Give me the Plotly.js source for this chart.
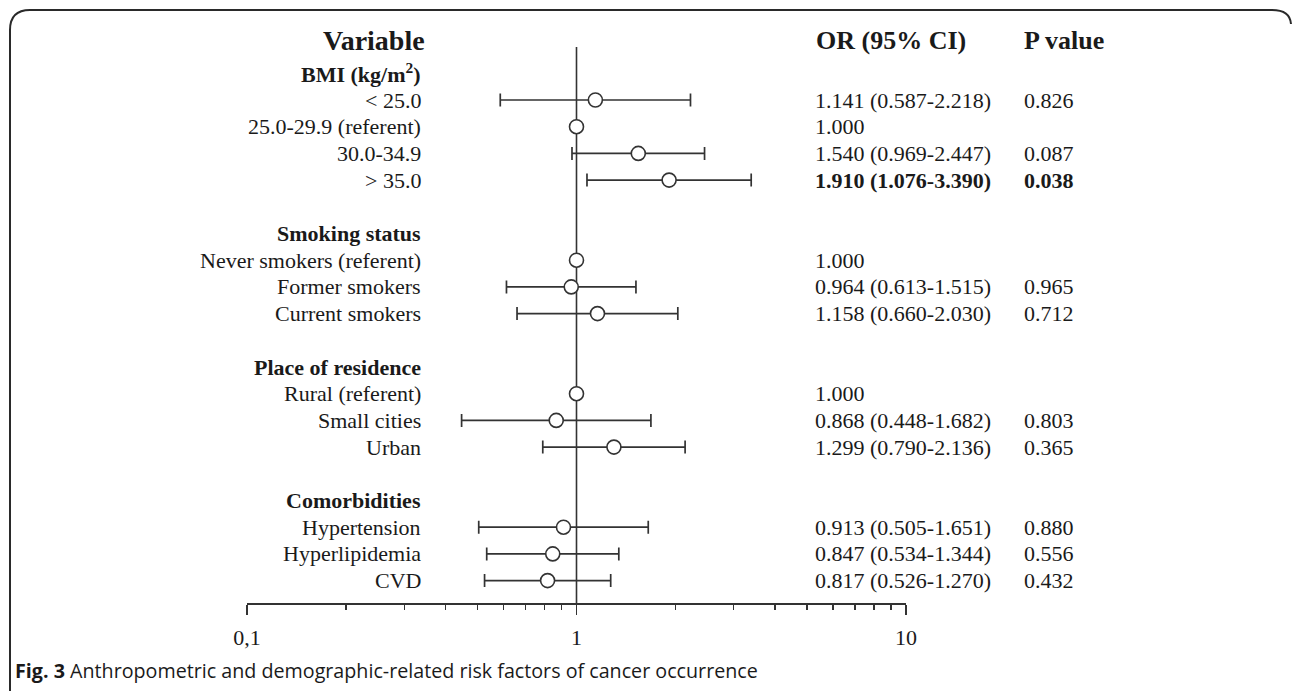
<!DOCTYPE html>
<html><head><meta charset="utf-8">
<script src="https://cdn.plot.ly/plotly-3.0.1.min.js"></script>
<style>html,body{margin:0;padding:0;background:#fff;} #chart{width:1292px;height:691px;}</style>
</head><body><div id="chart"></div>
<script>
const groups = ["BMI (kg/m<sup>2</sup>)", "Smoking status", "Place of residence", "Comorbidities"];
const categories = ["< 25.0", "25.0-29.9 (referent)", "30.0-34.9", "> 35.0",
  "Never smokers (referent)", "Former smokers", "Current smokers",
  "Rural (referent)", "Small cities", "Urban",
  "Hypertension", "Hyperlipidemia", "CVD"];
const categoryGroup = [0,0,0,0, 1,1,1, 2,2,2, 3,3,3];
const oddsRatios = [1.141, 1.000, 1.540, 1.910, 1.000, 0.964, 1.158, 1.000, 0.868, 1.299, 0.913, 0.847, 0.817];
const ciLower    = [0.587, null, 0.969, 1.076, null, 0.613, 0.660, null, 0.448, 0.790, 0.505, 0.534, 0.526];
const ciUpper    = [2.218, null, 2.447, 3.390, null, 1.515, 2.030, null, 1.682, 2.136, 1.651, 1.344, 1.270];
const pValues    = ["0.826", "", "0.087", "0.038", "", "0.965", "0.712", "", "0.803", "0.365", "0.880", "0.556", "0.432"];
const significant = [false,false,false,true, false,false,false, false,false,false, false,false,false];
const headers = ["Variable", "OR (95% CI)", "P value"];
const xTickVals = [0.1, 1, 10];
const xTickText = ["0,1", "1", "10"];
const xMinorVals = [0.2,0.3,0.4,0.5,0.6,0.7,0.8,0.9, 2,3,4,5,6,7,8,9];
const caption = "<b>Fig. 3</b> Anthropometric and demographic-related risk factors of cancer occurrence";

// layout geometry (pixels)
const W = 1292, H = 691, L = 247, R = 906, T = 47, B = 603;
const PX = px => (px - L) / (R - L);
const PY = py => (B - py) / (B - T);
const pitch = 26.7;

// row indices
const groupY = [], catY = [];
let yy = 0, prev = -1;
categories.forEach((c, i) => {
  if (categoryGroup[i] !== prev) {
    if (prev >= 0) yy += 1;
    groupY.push(yy); yy += 1; prev = categoryGroup[i];
  }
  catY.push(yy); yy += 1;
});
const yTop = 1 - (100 - T) / pitch;
const yBot = 1 + (B - 100) / pitch;

const serif = '"Liberation Serif", "Times New Roman", Times, serif';
const ink = '#1a1a1a';
const lineCol = '#333333';

const ciIdx = [], refIdx = [];
oddsRatios.forEach((v, i) => (ciLower[i] === null ? refIdx : ciIdx).push(i));

const markerStyle = {symbol: 'circle', size: 14, color: '#ffffff', line: {color: lineCol, width: 1.6}};
const traces = [
  {
    type: 'scatter', mode: 'markers', hoverinfo: 'skip',
    x: ciIdx.map(i => oddsRatios[i]), y: ciIdx.map(i => catY[i]),
    error_x: {type: 'data', symmetric: false,
      array: ciIdx.map(i => ciUpper[i] - oddsRatios[i]),
      arrayminus: ciIdx.map(i => oddsRatios[i] - ciLower[i]),
      color: lineCol, thickness: 1.7, width: 6.5},
    marker: markerStyle, cliponaxis: false
  },
  {
    type: 'scatter', mode: 'markers', hoverinfo: 'skip',
    x: refIdx.map(i => oddsRatios[i]), y: refIdx.map(i => catY[i]),
    marker: markerStyle, cliponaxis: false
  }
];

const ann = [];
const txt = (text, x, y, opts) => Object.assign({
  text, x, y, xref: 'paper', yref: 'y', showarrow: false, xanchor: 'left', yanchor: 'middle',
  borderpad: 0, borderwidth: 0, font: {family: serif, size: 22, color: ink}
}, opts || {});

groups.forEach((g, k) => ann.push(txt('<b>' + g + '</b>', PX(421), groupY[k], {xanchor: 'right'})));
categories.forEach((c, i) => {
  ann.push(txt(c, PX(421), catY[i], {xanchor: 'right'}));
  let s = oddsRatios[i].toFixed(3);
  if (ciLower[i] !== null) s += ' (' + ciLower[i].toFixed(3) + '-' + ciUpper[i].toFixed(3) + ')';
  const b = significant[i];
  ann.push(txt(b ? '<b>' + s + '</b>' : s, PX(815), catY[i]));
  if (pValues[i]) ann.push(txt(b ? '<b>' + pValues[i] + '</b>' : pValues[i], PX(1024), catY[i]));
});
const hdrFont = {family: serif, size: 26, color: ink};
ann.push(txt('<b>' + headers[0] + '</b>', PX(425), PY(40), {yref: 'paper', xanchor: 'right', font: {family: serif, size: 28, color: ink}}));
ann.push(txt('<b>' + headers[1] + '</b>', PX(816), PY(40), {yref: 'paper', font: hdrFont}));
ann.push(txt('<b>' + headers[2] + '</b>', PX(1024), PY(40), {yref: 'paper', font: hdrFont}));
ann.push({text: caption, x: PX(15), y: PY(670), xref: 'paper', yref: 'paper', showarrow: false,
  xanchor: 'left', yanchor: 'middle', borderpad: 0, borderwidth: 0,
  font: {family: '"Open Sans", "Noto Sans", sans-serif', size: 19.7, color: ink}});

const framePath = 'M ' + PX(10) + ',' + PY(691) + ' L ' + PX(10) + ',' + PY(30) +
  ' Q ' + PX(10) + ',' + PY(10) + ' ' + PX(30) + ',' + PY(10) +
  ' L ' + PX(1272) + ',' + PY(10) +
  ' Q ' + PX(1290) + ',' + PY(10) + ' ' + PX(1291) + ',' + PY(24);

const layout = {
  width: W, height: H, paper_bgcolor: '#ffffff', plot_bgcolor: 'rgba(0,0,0,0)',
  margin: {l: L, r: W - R, t: T, b: H - B, pad: 0},
  showlegend: false,
  xaxis: {
    type: 'log', range: [-1, 1], showgrid: false, zeroline: false,
    showline: true, linecolor: lineCol, linewidth: 1.6,
    tickmode: 'array', tickvals: xTickVals, ticktext: xTickText,
    ticks: 'outside', ticklen: 10, tickwidth: 1.6, tickcolor: lineCol,
    ticklabelstandoff: 4,
    tickfont: {family: serif, size: 22, color: ink},
    minor: {tickvals: xMinorVals, ticks: 'outside', ticklen: 5, tickwidth: 1.4, tickcolor: lineCol, showgrid: false}
  },
  yaxis: {range: [yBot, yTop], visible: false, showgrid: false, zeroline: false},
  annotations: ann,
  shapes: [
    {type: 'line', xref: 'x', yref: 'paper', x0: 1, x1: 1, y0: 0, y1: 1, layer: 'below',
     line: {color: lineCol, width: 1.6}},
    {type: 'path', xref: 'paper', yref: 'paper', path: framePath, line: {color: '#2a2a2a', width: 2}}
  ]
};
Plotly.newPlot('chart', traces, layout, {displayModeBar: false, staticPlot: true});
</script></body></html>
